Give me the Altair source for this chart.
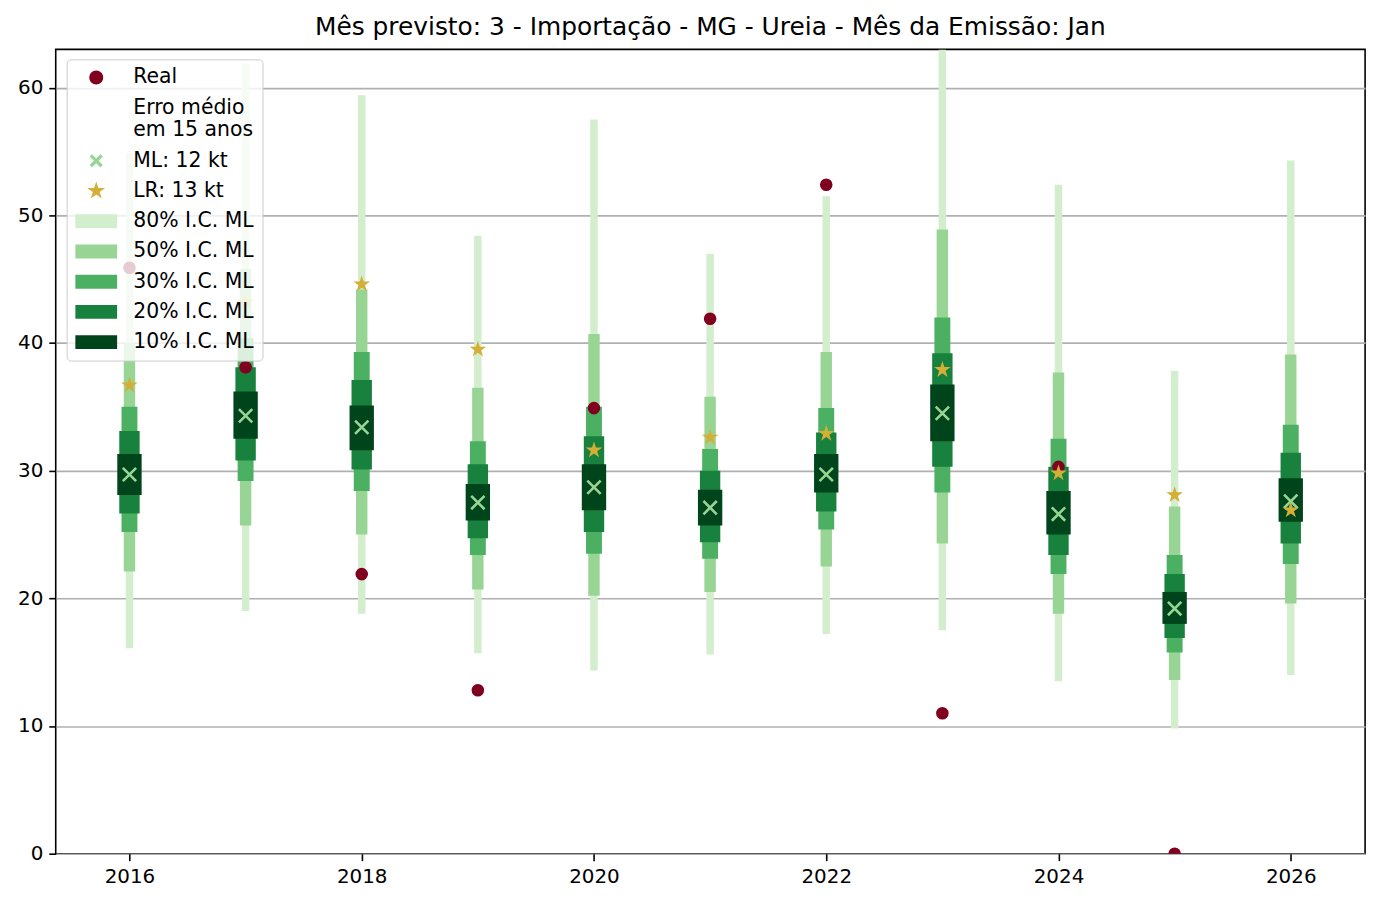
import altair as alt
import pandas as pd

# ---------------- data ----------------
years = [2016, 2017, 2018, 2019, 2020, 2021, 2022, 2023, 2024, 2025, 2026]
real = [45.9, 38.1, 21.9, 12.8, 34.9, 41.9, 52.4, 11.0, 30.3, 0.0, None]
ml = [29.7, 34.3, 33.4, 27.5, 28.7, 27.1, 29.7, 34.5, 26.6, 19.2, 27.6]
lr = [36.7, 43.2, 44.6, 39.5, 31.6, 32.6, 32.9, 37.9, 29.8, 28.1, 26.9]

ci80_lo = [16.1, 19.0, 18.8, 15.7, 14.35, 15.6, 17.2, 17.5, 13.5, 9.8, 14.0]
ci80_hi = [54.9, 61.9, 59.4, 48.4, 57.5, 47.0, 51.5, 63.0, 52.4, 37.8, 54.3]
ci50_lo = [22.1, 25.7, 25.0, 20.7, 20.2, 20.5, 22.5, 24.3, 18.8, 13.6, 19.6]
ci50_hi = [40.0, 45.8, 44.2, 36.5, 40.7, 35.8, 39.3, 48.9, 37.7, 27.2, 39.1]
ci30_lo = [25.2, 29.2, 28.4, 23.4, 23.5, 23.1, 25.4, 28.3, 21.9, 15.75, 22.7]
ci30_hi = [35.0, 40.4, 39.3, 32.3, 35.0, 31.7, 34.9, 42.0, 32.5, 23.4, 33.6]
ci20_lo = [26.65, 30.8, 30.1, 24.7, 25.2, 24.4, 26.8, 30.3, 23.4, 16.9, 24.3]
ci20_hi = [33.1, 38.1, 37.1, 30.5, 32.7, 30.0, 33.0, 39.2, 30.3, 21.9, 31.4]
ci10_lo = [28.1, 32.5, 31.6, 26.1, 26.9, 25.7, 28.3, 32.3, 25.0, 18.0, 26.0]
ci10_hi = [31.3, 36.2, 35.1, 28.95, 30.5, 28.5, 31.3, 36.75, 28.4, 20.5, 29.4]

legend_labels = ["Real", "Erro médio\nem 15 anos", "ML: 12 kt", "LR: 13 kt",
                 "80% I.C. ML", "50% I.C. ML", "30% I.C. ML", "20% I.C. ML", "10% I.C. ML"]
title_text = "Mês previsto: 3 - Importação - MG - Ureia - Mês da Emissão: Jan"

# ---------------- styling ----------------
C_REAL = "#800020"
C_ML = "#98d594"
C_LR = "#d4af37"
C80, C50, C30, C20, C10 = "#d3eecd", "#98d594", "#4bb062", "#17813d", "#00441b"
FONT = "DejaVu Sans"

XSTROKE = "M-1,-1L1,1M-1,1L1,-1"


def xpoly(s, k):
    pts = [(-1, -1 + k), (-1 + k, -1), (0, -k), (1 - k, -1), (1, -1 + k), (k, 0),
           (1, 1 - k), (1 - k, 1), (0, k), (-1 + k, 1), (-1, 1 - k), (-k, 0)]
    return "M" + "L".join(f"{x*s:.3f},{y*s:.3f}" for x, y in pts) + "Z"


def star(s):
    pts = [(0, -1), (0.2245, -0.309), (0.9511, -0.309), (0.3633, 0.118), (0.5878, 0.809),
           (0, 0.382), (-0.5878, 0.809), (-0.3633, 0.118), (-0.9511, -0.309), (-0.2245, -0.309)]
    return "M" + "L".join(f"{x*s:.3f},{y*s:.3f}" for x, y in pts) + "Z"


STAR = star(1.0)
CIRCLE = "M0,-1A1,1 0 1 1 0,1A1,1 0 1 1 0,-1Z"
RECT = "M-3,-1L3,-1L3,1L-3,1Z"
legend_shapes = [CIRCLE, "M0,0L0,0", xpoly(0.95, 0.36), star(1.35), RECT, RECT, RECT, RECT, RECT]
legend_colors = [C_REAL, "rgba(0,0,0,0)", C_ML, C_LR, C80, C50, C30, C20, C10]

# ---------------- tables ----------------
bands = pd.DataFrame({"year": years,
                      "l80": ci80_lo, "h80": ci80_hi, "l50": ci50_lo, "h50": ci50_hi,
                      "l30": ci30_lo, "h30": ci30_hi, "l20": ci20_lo, "h20": ci20_hi,
                      "l10": ci10_lo, "h10": ci10_hi})
pts = pd.DataFrame({"year": years, "real": real, "ml": ml, "lr": lr})
real_df = pts.dropna(subset=["real"])
leg_df = pd.DataFrame({"serie": legend_labels})

xscale = alt.Scale(domain=[2015.365, 2026.64], nice=False, zero=False)
yscale = alt.Scale(domain=[0, 63], nice=False)
xaxis = alt.Axis(values=[2016, 2018, 2020, 2022, 2024, 2026], format="d", grid=False, title=None,
                 domain=False, tickSize=7, tickWidth=1.6, tickColor="black", labelPadding=6,
                 labelFontSize=20, labelColor="black", labelFont=FONT)
yaxis = alt.Axis(values=[0, 10, 20, 30, 40, 50, 60], grid=True, gridColor="#b0b0b0", gridWidth=1.6,
                 title=None, domain=False, tickSize=7, tickWidth=1.6, tickColor="black",
                 labelPadding=6, labelFontSize=20, labelColor="black", labelFont=FONT)


def band_layer(lo, hi, color, w):
    return alt.Chart(bands).mark_rule(color=color, strokeWidth=w, strokeCap="butt", clip=True).encode(
        x=alt.X("year:Q", scale=xscale, axis=xaxis),
        y=alt.Y(f"{lo}:Q", scale=yscale, axis=yaxis),
        y2=f"{hi}:Q",
    )


leg = alt.Legend(orient="none", legendX=11, legendY=10, title=None,
                 labelExpr="split(datum.label, '\\n')",
                 padding=8, symbolSize=196, symbolOffset=11.5, labelOffset=27, rowPadding=9.4,
                 labelFontSize=20.5, labelFont=FONT, labelColor="black", labelLimit=400,
                 fillColor="rgba(255,255,255,0.8)", strokeColor="#cccccc", cornerRadius=4,
                 symbolStrokeWidth=0, labelBaseline="middle")

layers = [
    band_layer("l80", "h80", C80, 7.5),
    band_layer("l50", "h50", C50, 11.5),
    band_layer("l30", "h30", C30, 16),
    band_layer("l20", "h20", C20, 20.5),
    band_layer("l10", "h10", C10, 24.5),
    alt.Chart(real_df).mark_circle(color=C_REAL, size=160, opacity=1, clip=True).encode(
        x=alt.X("year:Q", scale=xscale, axis=xaxis), y=alt.Y("real:Q", scale=yscale, axis=yaxis)),
    alt.Chart(pts).mark_point(shape=XSTROKE, filled=False, color=C_ML, size=180, strokeWidth=2.6,
                              opacity=1, clip=True).encode(
        x=alt.X("year:Q", scale=xscale, axis=xaxis), y=alt.Y("ml:Q", scale=yscale, axis=yaxis)),
    alt.Chart(pts).mark_point(shape=STAR, filled=True, color=C_LR, size=310, opacity=1,
                              strokeWidth=0, clip=True).encode(
        x=alt.X("year:Q", scale=xscale, axis=xaxis), y=alt.Y("lr:Q", scale=yscale, axis=yaxis)),
    alt.Chart(leg_df).transform_filter("false").mark_point(filled=True, opacity=1, strokeWidth=0).encode(
        color=alt.Color("serie:N", scale=alt.Scale(domain=legend_labels, range=legend_colors), legend=leg),
        shape=alt.Shape("serie:N", scale=alt.Scale(domain=legend_labels, range=legend_shapes), legend=leg),
    ),
]

chart = alt.layer(*layers).properties(
    width=1317, height=809,
    title=alt.TitleParams(title_text, fontSize=25, font=FONT, fontWeight="normal", color="black",
                          baseline="alphabetic", offset=12, dy=23),
    autosize=alt.AutoSizeParams(type="none"),
    padding={"left": 48, "top": 39, "right": 14, "bottom": 50},
).configure(font=FONT).configure_view(stroke="black", strokeWidth=1.6)

chart.save("out.html", embed_options={"renderer": "svg", "actions": False})
